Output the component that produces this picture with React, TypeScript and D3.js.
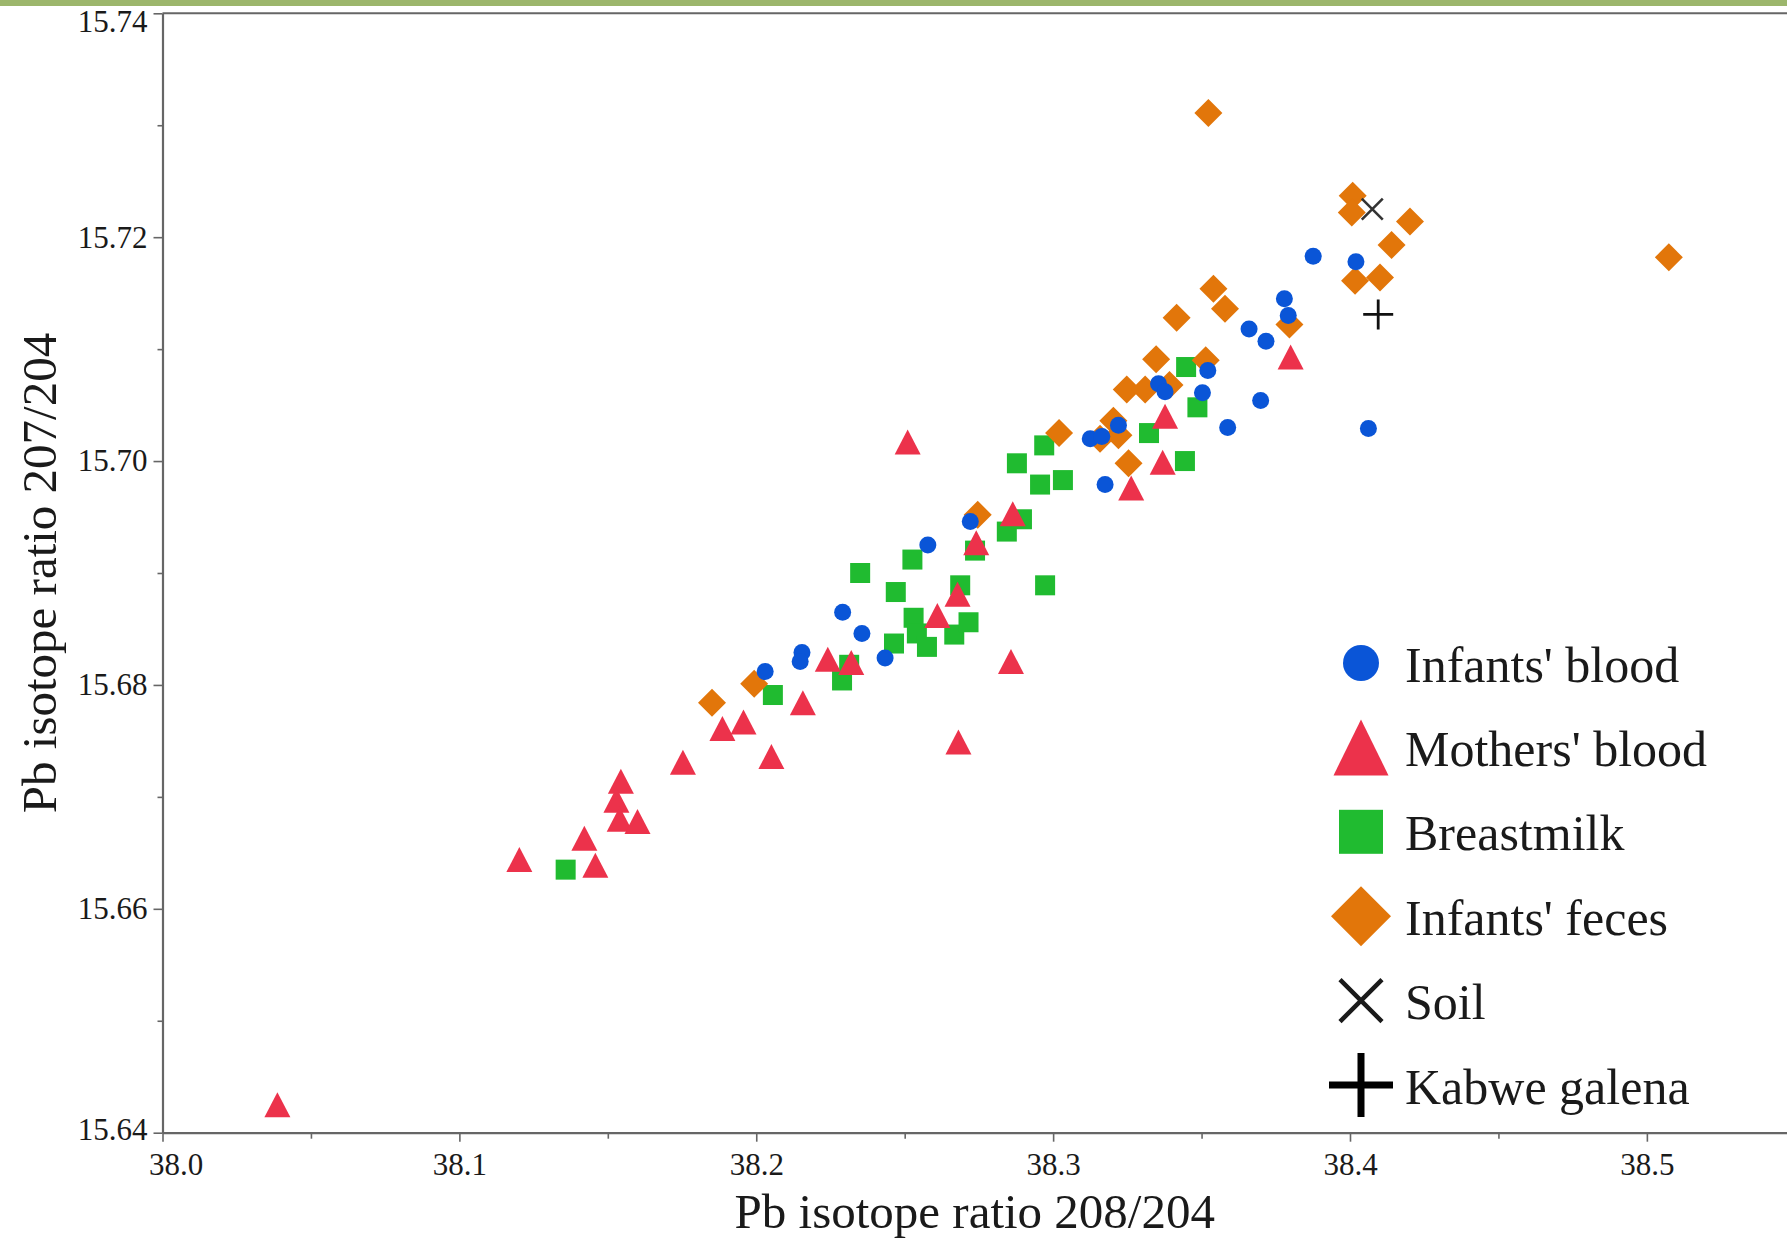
import React, { useEffect, useRef } from 'react';
import * as d3 from 'd3';

const W = 1787;
const H = 1240;

// Infants' blood (circles)
const infantsBloodX = [38.2030, 38.2154, 38.2148, 38.2291, 38.2356, 38.2434, 38.2578, 38.2721, 38.3125, 38.3164, 38.3220, 38.3175, 38.3355, 38.3377, 38.3503, 38.3521, 38.3699, 38.3588, 38.3660, 38.3717, 38.3779, 38.3792, 38.3876, 38.4020, 38.4062];
const infantsBloodY = [15.6812, 15.6829, 15.6821, 15.6865, 15.6846, 15.6824, 15.6925, 15.6946, 15.7020, 15.7022, 15.7032, 15.6979, 15.7069, 15.7062, 15.7061, 15.7081, 15.7054, 15.7030, 15.7118, 15.7107, 15.7145, 15.7130, 15.7183, 15.7178, 15.7029];

// Mothers' blood (triangles)
const mothersBloodX = [38.0387, 38.1202, 38.1458, 38.1421, 38.1544, 38.1529, 38.1540, 38.1600, 38.1753, 38.1886, 38.1957, 38.2051, 38.2157, 38.2241, 38.2320, 38.2610, 38.2681, 38.2678, 38.2858, 38.2741, 38.2864, 38.2510, 38.3263, 38.3369, 38.3377, 38.3800];
const mothersBloodY = [15.6425, 15.6644, 15.6639, 15.6663, 15.6714, 15.6697, 15.6680, 15.6678, 15.6731, 15.6761, 15.6767, 15.6736, 15.6784, 15.6823, 15.6820, 15.6862, 15.6749, 15.6881, 15.6821, 15.6927, 15.6953, 15.7017, 15.6976, 15.6999, 15.7040, 15.7093];

// Breastmilk (squares)
const breastmilkX = [38.1358, 38.2056, 38.2289, 38.2313, 38.2350, 38.2464, 38.2470, 38.2526, 38.2530, 38.2541, 38.2575, 38.2667, 38.2687, 38.2715, 38.2737, 38.2844, 38.2895, 38.2973, 38.2878, 38.2970, 38.2956, 38.3033, 38.3323, 38.3444, 38.3486, 38.3448];
const breastmilkY = [15.6635, 15.6791, 15.6804, 15.6818, 15.6900, 15.6837, 15.6883, 15.6912, 15.6860, 15.6846, 15.6834, 15.6845, 15.6889, 15.6856, 15.6920, 15.6937, 15.6948, 15.6889, 15.6998, 15.7014, 15.6979, 15.6983, 15.7025, 15.7000, 15.7048, 15.7084];

// Infants' feces (diamonds)
const infantsFecesX = [38.1851, 38.1993, 38.2746, 38.3020, 38.3254, 38.3203, 38.3158, 38.3220, 38.3248, 38.3310, 38.3392, 38.3347, 38.3514, 38.3416, 38.3540, 38.3579, 38.3796, 38.3523, 38.4009, 38.4006, 38.4202, 38.4140, 38.4101, 38.4017, 38.5074];
const infantsFecesY = [15.6784, 15.6801, 15.6952, 15.7025, 15.6998, 15.7036, 15.7020, 15.7023, 15.7064, 15.7064, 15.7068, 15.7091, 15.7090, 15.7128, 15.7154, 15.7136, 15.7122, 15.7311, 15.7237, 15.7222, 15.7214, 15.7193, 15.7164, 15.7161, 15.7182];

// Soil (x) and Kabwe galena (+)
const soilX = [38.4075];
const soilY = [15.7225];
const galenaX = [38.4095];
const galenaY = [15.7131];

const xTicks = [38.0, 38.1, 38.2, 38.3, 38.4, 38.5];
const xMinorTicks = [38.05, 38.15, 38.25, 38.35, 38.45];
const yTicks = [15.64, 15.66, 15.68, 15.70, 15.72, 15.74];
const yMinorTicks = [15.65, 15.67, 15.69, 15.71, 15.73];

const legendLabels = ["Infants' blood", "Mothers' blood", 'Breastmilk', "Infants' feces", 'Soil', 'Kabwe galena'];
const xTitle = 'Pb isotope ratio 208/204';
const yTitle = 'Pb isotope ratio 207/204';

const COLORS = {
  blue: '#0a55d7',
  red: '#ec324b',
  green: '#20bb30',
  orange: '#e2760a',
  axis: '#666666',
  text: '#1a1a1a',
};
const FONT = '"Liberation Serif", "Times New Roman", Times, serif';

function trianglePath(cx: number, cy: number, w: number, h: number) {
  return `M${cx},${cy - h / 2}L${cx + w / 2},${cy + h / 2}L${cx - w / 2},${cy + h / 2}Z`;
}
function diamondPath(cx: number, cy: number, r: number) {
  return `M${cx},${cy - r}L${cx + r},${cy}L${cx},${cy + r}L${cx - r},${cy}Z`;
}

export default function App() {
  const ref = useRef<SVGSVGElement | null>(null);

  useEffect(() => {
    document.body.style.margin = '0';
    const svg = d3.select(ref.current);
    svg.selectAll('*').remove();

    const x = d3.scaleLinear().domain([38.0, 38.5472]).range([162.5, W]);
    const y = d3.scaleLinear().domain([15.64, 15.74]).range([1132.7, 13.3]);

    // top decorative bar
    svg.append('rect').attr('x', 0).attr('y', 0).attr('width', W).attr('height', 6).attr('fill', '#9cb66c');

    // top border
    svg.append('line')
      .attr('x1', x(38.0)).attr('x2', W)
      .attr('y1', y(15.74)).attr('y2', y(15.74))
      .attr('stroke', COLORS.axis).attr('stroke-width', 2);

    // x axis
    const gx = svg.append('g').attr('transform', `translate(0,${y(15.64)})`);
    gx.call(
      d3.axisBottom(x).tickValues(xTicks).tickSize(9).tickSizeOuter(0).tickPadding(11)
        .tickFormat((d: any) => d3.format('.1f')(d))
    );
    const gxm = svg.append('g').attr('transform', `translate(0,${y(15.64)})`);
    gxm.call(d3.axisBottom(x).tickValues(xMinorTicks).tickSize(6).tickSizeOuter(0).tickFormat(() => ''));
    gxm.select('.domain').remove();

    // y axis
    const gy = svg.append('g').attr('transform', `translate(${x(38.0)},0)`);
    gy.call(
      d3.axisLeft(y).tickValues(yTicks).tickSize(9).tickSizeOuter(0).tickPadding(6)
        .tickFormat((d: any) => d3.format('.2f')(d))
    );
    const gym = svg.append('g').attr('transform', `translate(${x(38.0)},0)`);
    gym.call(d3.axisLeft(y).tickValues(yMinorTicks).tickSize(5).tickSizeOuter(0).tickFormat(() => ''));
    gym.select('.domain').remove();

    [gx, gxm, gy, gym].forEach((g) => {
      g.selectAll('.domain').attr('stroke', COLORS.axis).attr('stroke-width', 2.2);
      g.selectAll('.tick line').attr('stroke', COLORS.axis).attr('stroke-width', 1.6);
      g.selectAll('.tick text')
        .attr('fill', COLORS.text)
        .style('font-family', FONT)
        .style('font-size', '31px');
    });
    // nudge edge labels as in the original
    gx.selectAll('.tick text').filter((d: any) => d === 38.0).attr('dx', 13);
    gy.selectAll('.tick text').filter((d: any) => d === 15.74).attr('dy', '0.58em');
    gy.selectAll('.tick text').filter((d: any) => d === 15.64).attr('dy', '0.22em');

    // axis titles
    svg.append('text')
      .attr('x', (x(38.0) + W) / 2).attr('y', 1228)
      .attr('text-anchor', 'middle')
      .style('font-family', FONT).style('font-size', '49px')
      .attr('fill', COLORS.text)
      .text(xTitle);
    svg.append('text')
      .attr('transform', `translate(56,573) rotate(-90)`)
      .attr('text-anchor', 'middle')
      .style('font-family', FONT).style('font-size', '49px')
      .attr('fill', COLORS.text)
      .text(yTitle);

    const plot = svg.append('g');

    // Breastmilk squares
    const sq = 20;
    plot.selectAll('rect.milk').data(d3.range(breastmilkX.length)).enter().append('rect')
      .attr('class', 'milk')
      .attr('x', (i) => x(breastmilkX[i]) - sq / 2)
      .attr('y', (i) => y(breastmilkY[i]) - sq / 2)
      .attr('width', sq).attr('height', sq)
      .attr('fill', COLORS.green);

    // Mothers' blood triangles
    plot.selectAll('path.mother').data(d3.range(mothersBloodX.length)).enter().append('path')
      .attr('class', 'mother')
      .attr('d', (i) => trianglePath(x(mothersBloodX[i]), y(mothersBloodY[i]), 26, 25))
      .attr('fill', COLORS.red);

    // Infants' feces diamonds
    plot.selectAll('path.feces').data(d3.range(infantsFecesX.length)).enter().append('path')
      .attr('class', 'feces')
      .attr('d', (i) => diamondPath(x(infantsFecesX[i]), y(infantsFecesY[i]), 14))
      .attr('fill', COLORS.orange);

    // Infants' blood circles
    plot.selectAll('circle.infant').data(d3.range(infantsBloodX.length)).enter().append('circle')
      .attr('class', 'infant')
      .attr('cx', (i) => x(infantsBloodX[i]))
      .attr('cy', (i) => y(infantsBloodY[i]))
      .attr('r', 8.5)
      .attr('fill', COLORS.blue);

    // Soil X
    soilX.forEach((sx, i) => {
      const cx = x(sx), cy = y(soilY[i]), s = 10.5;
      plot.append('path')
        .attr('d', `M${cx - s},${cy - s}L${cx + s},${cy + s}M${cx - s},${cy + s}L${cx + s},${cy - s}`)
        .attr('stroke', '#333').attr('stroke-width', 2.6).attr('fill', 'none');
    });
    // Galena +
    galenaX.forEach((gxv, i) => {
      const cx = x(gxv), cy = y(galenaY[i]), s = 15;
      plot.append('path')
        .attr('d', `M${cx - s},${cy}L${cx + s},${cy}M${cx},${cy - s}L${cx},${cy + s}`)
        .attr('stroke', '#111').attr('stroke-width', 2.8).attr('fill', 'none');
    });

    // Legend
    const lg = svg.append('g').attr('transform', 'translate(1361,663)');
    const rowH = 84.4;
    legendLabels.forEach((label, i) => {
      const cy = i * rowH;
      if (i === 0) lg.append('circle').attr('cx', 0).attr('cy', cy).attr('r', 18).attr('fill', COLORS.blue);
      if (i === 1) lg.append('path').attr('d', trianglePath(0, cy, 55, 56)).attr('fill', COLORS.red);
      if (i === 2) lg.append('rect').attr('x', -22).attr('y', cy - 22).attr('width', 44).attr('height', 44).attr('fill', COLORS.green);
      if (i === 3) lg.append('path').attr('d', diamondPath(0, cy, 30)).attr('fill', COLORS.orange);
      if (i === 4) {
        const s = 21;
        lg.append('path').attr('d', `M${-s},${cy - s}L${s},${cy + s}M${-s},${cy + s}L${s},${cy - s}`)
          .attr('stroke', '#1a1a1a').attr('stroke-width', 4.5).attr('fill', 'none');
      }
      if (i === 5) {
        const s = 32;
        lg.append('path').attr('d', `M${-s},${cy}L${s},${cy}M0,${cy - s}L0,${cy + s}`)
          .attr('stroke', '#000').attr('stroke-width', 7).attr('fill', 'none');
      }
      lg.append('text')
        .attr('x', 44).attr('y', cy + 18.5)
        .style('font-family', FONT).style('font-size', '50px')
        .attr('fill', COLORS.text)
        .text(label);
    });
  }, []);

  return (
    <svg ref={ref} width={W} height={H} style={{ display: 'block', background: '#fff' }} />
  );
}
